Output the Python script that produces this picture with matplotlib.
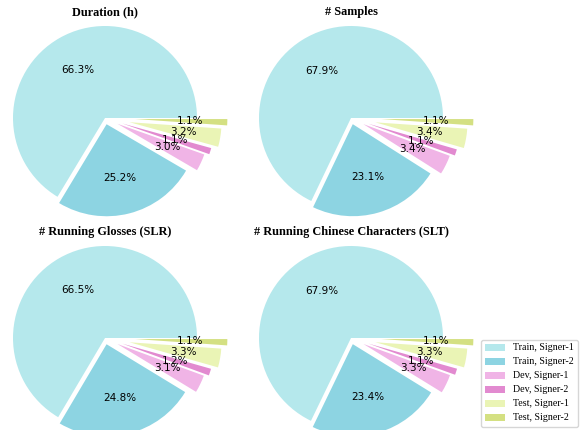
import matplotlib
matplotlib.use("Agg")
import matplotlib.pyplot as plt
from matplotlib.patches import Patch

# share of each split, in percent
labels = ["Train, Signer-1", "Train, Signer-2", "Dev, Signer-1",
          "Dev, Signer-2", "Test, Signer-1", "Test, Signer-2"]
duration = [66.3, 25.2, 3.0, 1.1, 3.2, 1.1]
samples = [67.9, 23.1, 3.4, 1.1, 3.4, 1.1]
glosses = [66.5, 24.8, 3.1, 1.2, 3.3, 1.1]
characters = [67.9, 23.4, 3.3, 1.1, 3.3, 1.1]

titles = ["Duration (h)", "# Samples",
          "# Running Glosses (SLR)", "# Running Chinese Characters (SLT)"]
colors = ["#b5e8ec", "#8dd4e2", "#f0b4e6", "#e28ad0", "#eaf4b5", "#d4e082"]
explode = [0, 0.07, 0.15, 0.2, 0.27, 0.33]

fig = plt.figure(figsize=(5.81, 4.3), dpi=100)
W, H = 581, 430
R = 92          # pie radius in pixels
side = 2.5 * R  # axes box size

# pie centres in pixels (x from left, y from top)
centres = [(105, 118), (351, 118), (105, 338), (351, 338)]
data = [duration, samples, glosses, characters]

for (cx, cy), vals, title in zip(centres, data, titles):
    yb = H - cy
    ax = fig.add_axes([(cx - side / 2) / W, (yb - side / 2) / H, side / W, side / H])
    wedges, texts, autotexts = ax.pie(vals, colors=colors, explode=explode,
                                      startangle=0, autopct="%1.1f%%",
                                      textprops={"fontsize": 7.5},
                                      wedgeprops={"clip_on": False})
    # show the values as given (the pie would renormalise them)
    for t, v in zip(autotexts, vals):
        t.set_text("%.1f%%" % v)
        t.set_clip_on(False)
    ax.set_xlim(-1.25, 1.25)
    ax.set_ylim(-1.25, 1.25)
    ax.set_aspect("equal")
    ax.text(0, 1.15, title, ha="center", va="center", fontsize=8.8,
            fontweight="bold", family="Liberation Serif")

handles = [Patch(facecolor=c, label=l) for c, l in zip(colors, labels)]
fig.legend(handles=handles, loc="lower right", bbox_to_anchor=(1.0, 0.0),
           borderaxespad=0.35, prop={"family": "Liberation Serif", "size": 7.2})

fig.savefig("out.png", dpi=100)
